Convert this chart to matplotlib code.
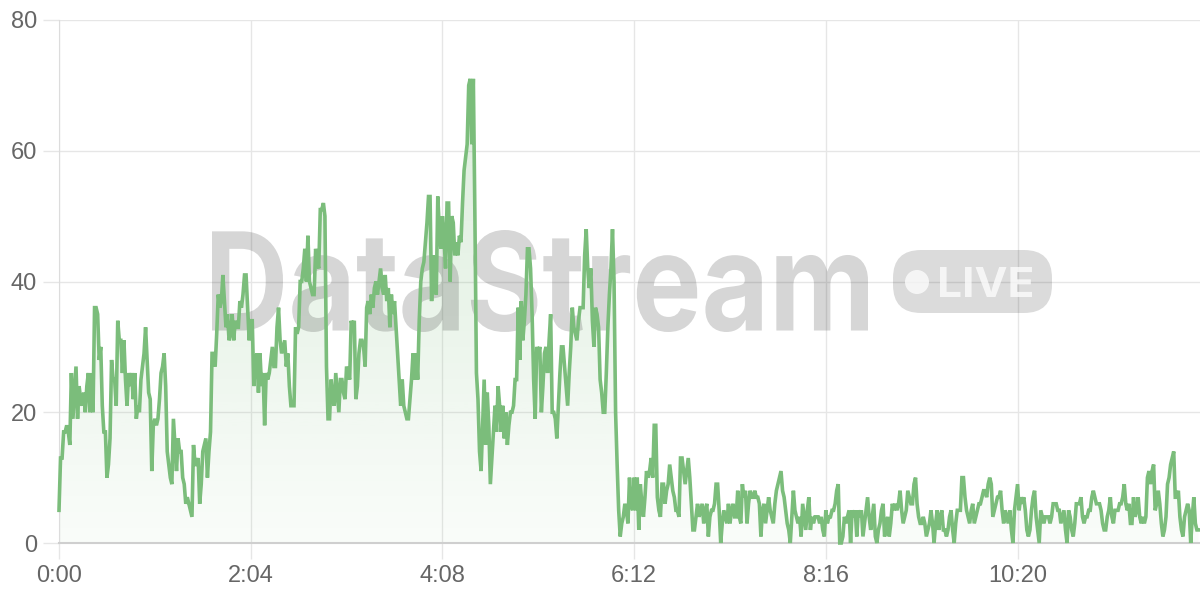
import numpy as np
import matplotlib
matplotlib.use("Agg")
import matplotlib.pyplot as plt
from matplotlib.colors import to_rgb
from matplotlib.textpath import TextPath
from matplotlib.patches import PathPatch, FancyBboxPatch, Circle
from matplotlib.font_manager import FontProperties
from matplotlib.transforms import Affine2D

# one value per second in six stretches between the x ticks
seg_a = [5, 13, 13, 17, 17, 18, 17, 15, 26, 19,
         23, 27, 19, 24, 22, 21, 23, 20, 24, 26,
         20, 26, 20, 36, 36, 35, 28, 30, 21, 17,
         17, 10, 12, 16, 28, 25, 25, 21, 34, 31,
         31, 26, 31, 25, 21, 26, 24, 26, 22, 26,
         19, 21, 20, 25, 27, 29, 33, 28, 23, 22,
         11, 18, 19, 18, 19, 22, 26, 27, 29, 24,
         14, 12, 10, 9, 19, 15, 11, 16, 14, 14,
         10, 9, 6, 7, 6, 5, 4, 15, 12, 12,
         13, 6, 9, 14, 15, 16, 10, 14, 17, 29,
         29, 27, 32, 38, 36, 37, 41, 37, 33, 35,
         31, 32, 35, 31, 34, 33, 33, 37, 36, 38,
         41, 41, 36, 31]
seg_b = [34, 34, 24, 28, 29, 23,
         29, 24, 26, 18, 26, 25, 26, 28, 30, 27,
         27, 33, 36, 31, 29, 30, 31, 27, 29, 24,
         21, 21, 21, 33, 32, 33, 40, 40, 42, 45,
         40, 47, 40, 39, 38, 38, 45, 43, 42, 51,
         51, 52, 50, 27, 19, 19, 25, 22, 21, 26,
         23, 20, 25, 25, 23, 22, 27, 26, 25, 34,
         33, 34, 22, 24, 29, 31, 31, 30, 27, 36,
         37, 35, 38, 36, 39, 40, 38, 40, 42, 39,
         38, 41, 37, 39, 33, 38, 35, 37, 33, 29,
         25, 21, 25, 21, 20, 19, 19, 22, 25, 29,
         25, 29, 25, 34, 40, 42, 43, 46, 49, 53,
         53, 37, 44, 40, 38, 53, 48, 45]
seg_c = [50, 47,
         42, 52, 52, 40, 50, 49, 44, 46, 44, 47,
         46, 52, 57, 59, 61, 70, 71, 61, 71, 50,
         26, 22, 14, 11, 18, 25, 15, 23, 18, 9,
         13, 17, 21, 17, 24, 21, 17, 21, 16, 20,
         15, 18, 20, 20, 21, 25, 25, 36, 28, 37,
         31, 34, 38, 45, 45, 42, 35, 25, 19, 30,
         29, 30, 20, 24, 29, 30, 26, 31, 35, 20,
         20, 19, 16, 21, 26, 30, 30, 27, 24, 21,
         26, 30, 36, 33, 32, 31, 34, 36, 36, 36,
         44, 48, 42, 39, 42, 34, 30, 36, 35, 33,
         25, 23, 20, 20, 26, 33, 38, 42, 48, 40,
         20, 12, 5, 1, 3, 4, 6, 5, 3, 10,
         6, 5]
seg_d = [10, 5, 10, 2, 9, 6, 4, 7,
         11, 10, 11, 13, 10, 18, 18, 7, 5, 4,
         9, 9, 6, 8, 9, 12, 10, 8, 7, 5,
         5, 4, 13, 13, 11, 9, 11, 13, 10, 6,
         2, 2, 4, 6, 4, 5, 6, 3, 5, 6,
         1, 4, 5, 5, 6, 9, 9, 5, 0, 3,
         5, 4, 3, 6, 3, 5, 6, 4, 4, 8,
         4, 3, 9, 7, 8, 3, 6, 8, 7, 7,
         8, 7, 7, 6, 1, 5, 6, 3, 5, 7,
         5, 4, 3, 6, 8, 9, 10, 11, 8, 7,
         5, 3, 2, 0, 4, 8, 5, 4, 3, 4,
         1, 6, 4, 2, 5, 7, 2, 4, 3, 4,
         4, 4, 3, 4, 2, 1]
seg_e = [5, 3, 4, 4,
         5, 5, 6, 8, 9, 0, 0, 1, 4, 3,
         4, 5, 0, 5, 4, 5, 1, 5, 4, 5,
         1, 3, 5, 7, 4, 2, 4, 6, 1, 0,
         2, 3, 5, 6, 1, 3, 4, 1, 3, 6,
         5, 6, 5, 6, 8, 5, 3, 4, 5, 8,
         7, 6, 6, 9, 10, 6, 4, 3, 3, 4,
         3, 1, 2, 3, 5, 3, 0, 3, 5, 2,
         4, 5, 2, 2, 1, 2, 4, 5, 2, 0,
         3, 5, 5, 5, 10, 10, 7, 5, 4, 3,
         5, 6, 3, 4, 5, 6, 6, 7, 8, 8,
         7, 9, 10, 9, 4, 5, 6, 7, 7, 8,
         5, 3, 5, 4, 3, 5, 2, 0, 5, 7]
seg_f = [9, 5, 7, 6, 7, 5, 2, 1, 2, 5,
         7, 8, 4, 2, 0, 5, 4, 3, 4, 4,
         4, 3, 4, 6, 6, 6, 5, 5, 3, 4,
         5, 2, 0, 5, 4, 2, 1, 3, 6, 6,
         6, 7, 4, 3, 4, 4, 5, 5, 7, 8,
         7, 6, 6, 6, 5, 3, 2, 2, 4, 5,
         7, 4, 3, 5, 5, 5, 6, 6, 7, 9,
         6, 5, 6, 3, 3, 7, 4, 5, 7, 4,
         3, 4, 3, 4, 10, 11, 9, 11, 12, 5,
         6, 8, 6, 3, 1, 2, 4, 9, 10, 12,
         13, 14, 7, 7, 8, 4, 2, 1, 4, 5,
         6, 5, 0, 4, 7, 3, 2, 2]

tick_seconds = [0, 124, 248, 372, 496, 620]
tick_labels = ["0:00", "2:04", "4:08", "6:12", "8:16", "10:20"]
y_ticks = [0, 20, 40, 60, 80]

values = np.array(seg_a + seg_b + seg_c + seg_d + seg_e + seg_f)
seconds = np.arange(len(values))

LINE = "#7bbd7b"
GRID = "#e6e6e6"
TEXT = "#666666"
W, H = 1200, 600

fig = plt.figure(figsize=(12, 6), dpi=100)
fig.patch.set_facecolor("white")
ax = fig.add_axes([59 / W, 57 / H, 1141 / W, 523 / H])

# pixel coordinates (origin bottom-left) for the watermark pieces
px = Affine2D().scale(1 / W, 1 / H) + fig.transFigure


def fitted_text(s, x0, x1, y_top, y_bot, **kw):
    """Text outline stretched to a box given in image pixels (y from top)."""
    tp = TextPath((0, 0), s, size=100,
                  prop=FontProperties(family=["Inter", "Liberation Sans"], weight="bold"))
    bb = tp.get_extents()
    tr = (Affine2D().translate(-bb.x0, -bb.y0)
          .scale((x1 - x0) / bb.width, (y_bot - y_top) / bb.height)
          .translate(x0, H - y_bot) + px)
    return PathPatch(tp, transform=tr, lw=0, **kw)


# gradient fill under the line
grad = np.zeros((256, 1, 4))
grad[..., :3] = to_rgb(LINE)
grad[:, 0, 3] = np.linspace(0.04, 0.30, 256)
img = ax.imshow(grad, extent=[0, seconds[-1], 0, 80], origin="lower",
                aspect="auto", interpolation="bilinear", zorder=1)
area = ax.fill_between(seconds, values, 0, facecolor="none", edgecolor="none")
img.set_clip_path(area.get_paths()[0], transform=ax.transData)

# watermark
mark = (0, 0, 0, 0.16)
ax.add_patch(fitted_text("DataStream", 212, 868, 230, 332, facecolor=mark, zorder=2))
ax.add_patch(FancyBboxPatch((893, H - 313), 159, 63, boxstyle="round,pad=0,rounding_size=28",
                            transform=px, facecolor=(0, 0, 0, 0.14), edgecolor="none", zorder=2))
ax.add_patch(Circle((917, H - 282), 12, transform=px, facecolor=(1, 1, 1, 0.75),
                    edgecolor="none", zorder=2.1))
ax.add_patch(fitted_text("LIVE", 940, 1032, 267, 297, facecolor=(1, 1, 1, 0.75), zorder=2.1))

ax.plot(seconds, values, color=LINE, lw=2.6, zorder=3, solid_joinstyle="miter", clip_on=False)

ax.set_xlim(0, 738)
ax.set_ylim(0, 80)
ax.set_xticks(tick_seconds)
ax.set_xticklabels(tick_labels)
ax.set_yticks(y_ticks)
ax.set_axisbelow(True)
ax.grid(True, color=GRID, lw=1)
ax.tick_params(length=11.5, width=1, color=GRID, pad=4.3, labelsize=17, labelcolor=TEXT)
for lab in ax.get_xticklabels() + ax.get_yticklabels():
    lab.set_fontfamily(["Liberation Sans", "DejaVu Sans"])
ax.spines["top"].set_visible(False)
ax.spines["right"].set_visible(False)
ax.spines["left"].set_color("#dcdcdc")
ax.spines["bottom"].set_color("#cfcfcf")
ax.spines["bottom"].set_linewidth(1.5)

fig.savefig("out.png", dpi=100)
